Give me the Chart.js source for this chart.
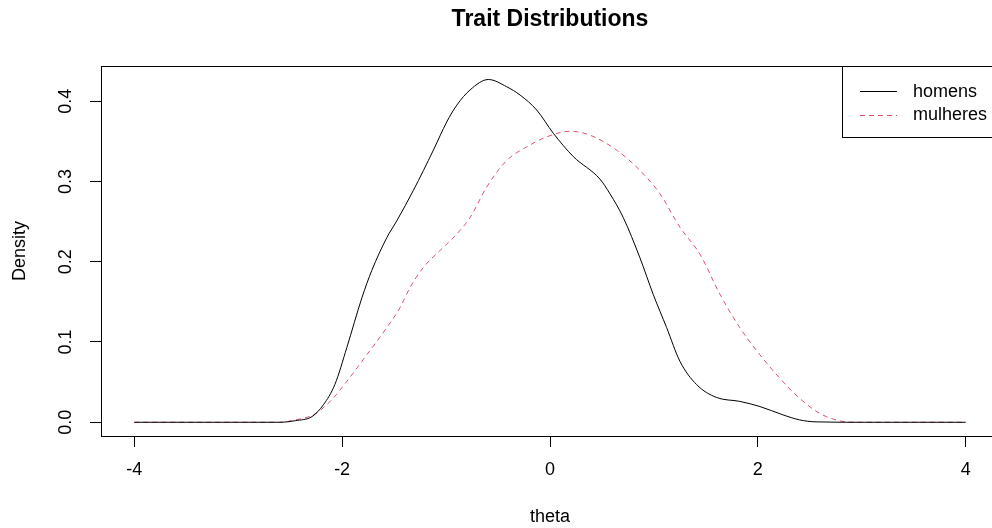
<!DOCTYPE html>
<html>
<head>
<meta charset="utf-8">
<title>Trait Distributions</title>
<script src="https://cdn.jsdelivr.net/npm/chart.js@4.4.1/dist/chart.umd.min.js"></script>
<style>
  html, body { margin: 0; padding: 0; background: #fff; overflow: hidden; }
  #wrap { width: 1100px; height: 528px; }
</style>
</head>
<body>
<div id="wrap"><canvas id="densityChart"></canvas></div>
<script>
// density curves
var homensTheta = [-4, -3, -2.6, -2.45, -2.29, -2.18, -2.07, -1.955, -1.81, -1.715, -1.57, -1.474, -1.314, -1.122, -0.994, -0.897, -0.769, -0.593, -0.417, -0.288, -0.128, 0.032, 0.224, 0.48, 0.577, 0.705, 0.865, 0.994, 1.122, 1.25, 1.41, 1.6, 1.827, 2.02, 2.24, 2.4, 2.56, 3, 4];
var homensDensity = [0, 0, 0, 0.002, 0.0071, 0.0218, 0.047, 0.093, 0.155, 0.189, 0.23, 0.251, 0.289, 0.339, 0.374, 0.395, 0.414, 0.427, 0.418, 0.4076, 0.389, 0.36, 0.331, 0.303, 0.2846, 0.255, 0.205, 0.159, 0.118, 0.076, 0.047, 0.031, 0.026, 0.0196, 0.0093, 0.003, 0.0005, 0, 0];

var mulheresTheta = [-4, -3, -2.6, -2.45, -2.276, -2.115, -1.955, -1.763, -1.57, -1.442, -1.346, -1.218, -1.058, -0.897, -0.769, -0.609, -0.417, -0.224, -0.032, 0.192, 0.385, 0.641, 0.865, 1.058, 1.25, 1.442, 1.635, 1.827, 2.02, 2.21, 2.4, 2.596, 2.79, 2.95, 4];
var mulheresDensity = [0, 0, 0, 0.003, 0.0093, 0.026, 0.051, 0.084, 0.118, 0.143, 0.168, 0.193, 0.214, 0.2345, 0.255, 0.293, 0.326, 0.343, 0.3555, 0.3625, 0.3576, 0.339, 0.3138, 0.2846, 0.243, 0.2095, 0.1595, 0.1177, 0.084, 0.055, 0.03, 0.011, 0.0017, 0, 0];

var seriesNames = ['homens', 'mulheres'];
var xTicks = [-4, -2, 0, 2, 4];
var yTicks = [0, 0.1, 0.2, 0.3, 0.4];
var yTickLabels = ['0.0', '0.1', '0.2', '0.3', '0.4'];

var FONT = "'Liberation Sans', Arial, sans-serif";

function toPoints(xs, ys) {
    return xs.map(function (x, i) { return { x: x, y: ys[i] }; });
}

// box round the plot region, like R's box()
var frame = {
    id: 'frame',
    afterDraw: function (chart) {
        var a = chart.chartArea, c = chart.ctx;
        c.save();
        c.strokeStyle = '#000';
        c.lineWidth = 1;
        c.strokeRect(Math.round(a.left) + 0.5, Math.round(a.top) + 0.5,
            Math.round(a.right - a.left), Math.round(a.bottom - a.top));
        c.restore();
    }
};

// topright legend with a box, drawn from the datasets
var boxLegend = {
    id: 'boxLegend',
    afterDraw: function (chart) {
        var a = chart.chartArea, c = chart.ctx;
        var w = 157, h = 71;
        var x0 = Math.round(a.right) - w, y0 = Math.round(a.top);
        c.save();
        c.fillStyle = '#fff';
        c.fillRect(x0, y0, w, h);
        c.strokeStyle = '#000';
        c.lineWidth = 1;
        c.strokeRect(x0 + 0.5, y0 + 0.5, w, h);
        c.font = '18px ' + FONT;
        c.textBaseline = 'middle';
        c.textAlign = 'left';
        chart.data.datasets.forEach(function (ds, i) {
            var y = y0 + 25 + i * 23.5;
            c.beginPath();
            c.strokeStyle = ds.borderColor;
            c.lineWidth = 1.2;
            c.setLineDash(ds.borderDash || []);
            c.moveTo(x0 + 18, Math.round(y) + 0.5);
            c.lineTo(x0 + 55, Math.round(y) + 0.5);
            c.stroke();
            c.setLineDash([]);
            c.fillStyle = '#000';
            c.fillText(ds.label, x0 + 71, y + 1);
        });
        c.restore();
    }
};

var ctx = document.getElementById('densityChart').getContext('2d');
var densityChart = new Chart(ctx, {
    type: 'line',
    data: {
        datasets: [{
            label: seriesNames[0],
            data: toPoints(homensTheta, homensDensity),
            borderColor: '#000000',
            borderWidth: 1,
            pointRadius: 0,
            cubicInterpolationMode: 'monotone'
        }, {
            label: seriesNames[1],
            data: toPoints(mulheresTheta, mulheresDensity),
            borderColor: '#DF536B',
            borderWidth: 1,
            borderDash: [5, 4],
            pointRadius: 0,
            cubicInterpolationMode: 'monotone'
        }]
    },
    options: {
        responsive: true,
        maintainAspectRatio: false,
        animation: false,
        devicePixelRatio: 1,
        layout: {
            padding: { left: 0, right: 101, top: 0, bottom: 0 }
        },
        plugins: {
            legend: { display: false },
            tooltip: { enabled: false },
            title: {
                display: true,
                fullSize: false,
                text: 'Trait Distributions',
                color: '#000',
                font: { family: FONT, size: 23, weight: 'bold' },
                padding: { top: 6, bottom: 32.4 }
            }
        },
        scales: {
            x: {
                type: 'linear',
                min: -4.32,
                max: 4.32,
                afterBuildTicks: function (s) { s.ticks = xTicks.map(function (v) { return { value: v }; }); },
                afterFit: function (s) { s.height = 92; },
                grid: { drawOnChartArea: false, drawTicks: true, tickLength: 11, color: '#000' },
                border: { display: false },
                ticks: {
                    color: '#000',
                    font: { family: FONT, size: 18 },
                    padding: 12,
                    maxRotation: 0,
                    callback: function (v) { return String(v); }
                },
                title: {
                    display: true,
                    text: 'theta',
                    color: '#000',
                    font: { family: FONT, size: 18 },
                    padding: { top: 0, bottom: 0 }
                }
            },
            y: {
                type: 'linear',
                min: -0.0171,
                max: 0.4438,
                afterBuildTicks: function (s) { s.ticks = yTicks.map(function (v) { return { value: v }; }); },
                afterFit: function (s) { s.width = 101; },
                grid: { drawOnChartArea: false, drawTicks: true, tickLength: 11, color: '#000' },
                border: { display: false },
                ticks: {
                    color: '#000',
                    font: { family: FONT, size: 18 },
                    padding: 11,
                    minRotation: 90,
                    maxRotation: 90,
                    crossAlign: 'center',
                    callback: function (v, i) { return yTickLabels[i]; }
                },
                title: {
                    display: true,
                    text: 'Density',
                    color: '#000',
                    font: { family: FONT, size: 18 },
                    padding: { top: 9, bottom: 0 }
                }
            }
        }
    },
    plugins: [frame, boxLegend]
});
</script>
</body>
</html>
